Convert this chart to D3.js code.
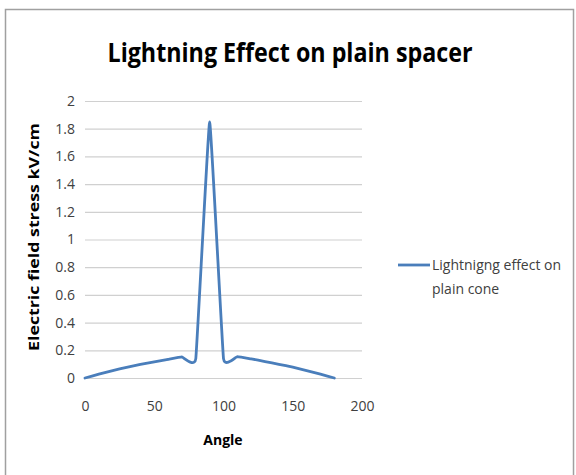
<!DOCTYPE html>
<html>
<head>
<meta charset="utf-8">
<script src="https://cdn.jsdelivr.net/npm/d3@7"></script>
<style>
  html, body { margin: 0; padding: 0; background: #fff; }
  svg { display: block; }
  text { font-family: "Open Sans", "DejaVu Sans", sans-serif; fill: #404040; }
</style>
</head>
<body>
<svg id="chart" width="576" height="475"></svg>
<script>
// Angle (degrees) and electric field stress (kV/cm) along the plain cone
const angles = [0, 10, 20, 30, 40, 50, 60, 70, 80, 90, 100, 110, 120, 130, 140, 150, 160, 170, 180];
const stress = [0, 0.028, 0.054, 0.077, 0.098, 0.117, 0.135, 0.152, 0.14, 1.85, 0.14, 0.155, 0.138, 0.119, 0.099, 0.078, 0.054, 0.028, 0];
const yTicks = [0, 0.2, 0.4, 0.6, 0.8, 1, 1.2, 1.4, 1.6, 1.8, 2];
const xTicks = [0, 50, 100, 150, 200];
const seriesName = ["Lightnigng effect on", "plain cone"];
const chartTitle = "Lightning Effect on plain spacer";
const xTitle = "Angle";
const yTitle = "Electric field stress kV/cm";

const svg = d3.select("#chart");
const lineColor = "#4a7ebb";

// Outer chart frame
svg.append("rect")
  .attr("x", 5.5).attr("y", 9.5)
  .attr("width", 568).attr("height", 475)
  .attr("fill", "#fff")
  .attr("stroke", "#a0a0a0").attr("stroke-width", 1.5);

const x = d3.scaleLinear().domain([0, 200]).range([85, 362]);
const y = d3.scaleLinear().domain([0, 2]).range([378, 101]);

// Title
svg.append("text")
  .attr("x", 290).attr("y", 62)
  .attr("text-anchor", "middle")
  .attr("textLength", 365).attr("lengthAdjust", "spacingAndGlyphs")
  .style("font-weight", "bold")
  .style("font-size", "27px")
  .style("fill", "#000")
  .text(chartTitle);

// Horizontal gridlines with y tick labels
const yAxis = d3.axisLeft(y)
  .tickValues(yTicks)
  .tickSize(-(x(200) - x(0)))
  .tickPadding(10)
  .tickFormat(d => String(+d.toFixed(1)));

const gy = svg.append("g")
  .attr("transform", `translate(${x(0)},0)`)
  .call(yAxis);
gy.select(".domain").remove();
gy.selectAll(".tick line").attr("stroke", "#d0d0d0").attr("stroke-width", 1.2);
gy.selectAll(".tick text").style("font-size", "14px").style("fill", "#404040");

// X tick labels
const xAxis = d3.axisBottom(x)
  .tickValues(xTicks)
  .tickSize(0)
  .tickPadding(23)
  .tickFormat(d3.format("d"));
const gx = svg.append("g")
  .attr("transform", `translate(0,${y(0)})`)
  .call(xAxis);
gx.select(".domain").remove();
gx.selectAll(".tick text").style("font-size", "14px").style("fill", "#404040");

// Axis titles
svg.append("text")
  .attr("x", 223).attr("y", 445)
  .attr("text-anchor", "middle")
  .style("font-weight", "bold")
  .style("font-size", "14px")
  .style("fill", "#000")
  .text(xTitle);

svg.append("text")
  .attr("transform", `translate(39,237) rotate(-90)`)
  .attr("text-anchor", "middle")
  .attr("textLength", 228).attr("lengthAdjust", "spacingAndGlyphs")
  .style("font-weight", "bold")
  .style("font-size", "15px")
  .style("fill", "#000")
  .text(yTitle);

// Smoothed series line
const line = d3.line()
  .x((d, i) => x(angles[i]))
  .y(d => y(d))
  .curve(d3.curveCardinal.tension(0.75));

svg.append("path")
  .datum(stress)
  .attr("d", line)
  .attr("fill", "none")
  .attr("stroke", lineColor)
  .attr("stroke-width", 2.8)
  .attr("stroke-linejoin", "round")
  .attr("stroke-linecap", "round");

// Legend
const lg = svg.append("g");
lg.append("line")
  .attr("x1", 398).attr("x2", 430)
  .attr("y1", 265).attr("y2", 265)
  .attr("stroke", lineColor).attr("stroke-width", 2.8);
lg.selectAll("text.leg")
  .data(seriesName)
  .enter().append("text")
  .attr("class", "leg")
  .attr("x", 432)
  .attr("y", (d, i) => 270 + i * 24)
  .style("font-size", "14px")
  .style("fill", "#404040")
  .text(d => d);
</script>
</body>
</html>
